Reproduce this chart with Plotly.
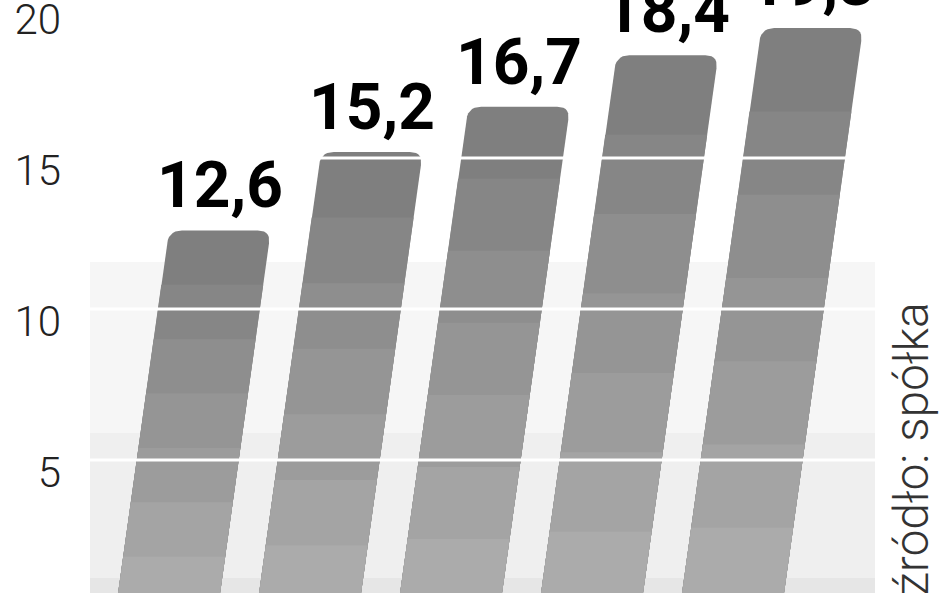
import numpy as np
import plotly.graph_objects as go

# Values (no category labels are visible)
bar_values = [12.6, 15.2, 16.7, 18.4, 19.3]
bar_labels = ['12,6', '15,2', '16,7', '18,4', '19,3']
y_ticks = [0, 5, 10, 15, 20]
source_text = 'źródło: spółka'

# bar geometry (x units per bar slot, slant in x units per y unit)
W = 0.723
K = 0.030
RX, RY = 0.092, 0.43
N_BANDS = 7
top_gray, bottom_gray = 0x7f, 0xab


def qcurve(p0, c, p1, n=8):
    t = np.linspace(0, 1, n)
    x = (1 - t) ** 2 * p0[0] + 2 * (1 - t) * t * c[0] + t ** 2 * p1[0]
    y = (1 - t) ** 2 * p0[1] + 2 * (1 - t) * t * c[1] + t ** 2 * p1[1]
    return list(x), list(y)


def bar_outline(i, y1, rounded):
    # slanted bar from 0 up to y1, optionally with rounded top corners
    xl = lambda y: i - W / 2 + K * y
    xr = lambda y: i + W / 2 + K * y
    if not rounded:
        return [xl(0), xl(y1), xr(y1), xr(0), xl(0)], [0, y1, y1, 0, 0]
    xs, ys = [xl(0)], [0]
    cx, cy = qcurve((xl(y1 - RY), y1 - RY), (xl(y1), y1), (xl(y1) + RX, y1))
    xs += cx; ys += cy
    cx, cy = qcurve((xr(y1) - RX, y1), (xr(y1), y1), (xr(y1 - RY), y1 - RY))
    xs += cx; ys += cy
    xs += [xr(0), xl(0)]; ys += [0, 0]
    return xs, ys


fig = go.Figure()

# each bar: full dark shape first, then lighter lower parts laid over it (stepped gradient)
for i, v in enumerate(bar_values):
    edges = np.linspace(0, v, N_BANDS + 1)[1:][::-1]
    for b, top in enumerate(edges):
        frac = b / (N_BANDS - 1)
        g = int(round(top_gray + (bottom_gray - top_gray) * frac))
        xs, ys = bar_outline(i, top, b == 0)
        fig.add_trace(go.Scatter(x=xs, y=ys, mode='lines', fill='toself',
                                 fillcolor=f'rgb({g},{g},{g})', line=dict(width=0),
                                 hoverinfo='skip', showlegend=False))

# value labels over the bars
for i, (v, lab) in enumerate(zip(bar_values, bar_labels)):
    fig.add_annotation(x=i + K * v, y=v, text=f'<b>{lab}</b>', showarrow=False,
                       xanchor='center', yanchor='bottom', yshift=5,
                       font=dict(family='Roboto', size=64, weight=900, color='#000000'))

fig.add_annotation(xref='paper', yref='paper', x=1.046, y=0.0, text=source_text,
                   textangle=-90, showarrow=False, xanchor='center', yanchor='bottom',
                   yshift=-5,
                   font=dict(family='Roboto', size=48, weight=300, color='#333333'))

# shaded backdrop panel behind the lower part of the bars
panel = [(-2, 1.1, '#e6e6e6'), (1.1, 5.9, '#efefef'), (5.9, 11.56, '#f6f6f6')]
for y0, y1, col in panel:
    fig.add_shape(type='rect', xref='paper', yref='y', x0=0, x1=1, y0=y0, y1=y1,
                  fillcolor=col, line=dict(width=0), layer='below')

# white grid lines drawn over the bars
for t in y_ticks[1:]:
    fig.add_shape(type='line', xref='paper', yref='y', x0=0, x1=1, y0=t, y1=t,
                  line=dict(color='white', width=3), layer='above')

fig.update_layout(
    width=948, height=593,
    margin=dict(l=90, r=73, t=0, b=0, autoexpand=False),
    paper_bgcolor='white', plot_bgcolor='white',
    xaxis=dict(range=[-0.543, 5.025], visible=False, automargin=False),
    yaxis=dict(range=[0.6, 20.23], tickvals=y_ticks, showgrid=False, zeroline=False,
               showline=False, ticks='', ticklabelstandoff=28, ticklabelshift=12,
               ticklabeloverflow='allow', automargin=False,
               tickfont=dict(family='Roboto', size=42, weight=300, color='#222222')),
)

fig.write_html('out.html', config={'displayModeBar': False},
               post_script="document.body.style.margin='0px';")
